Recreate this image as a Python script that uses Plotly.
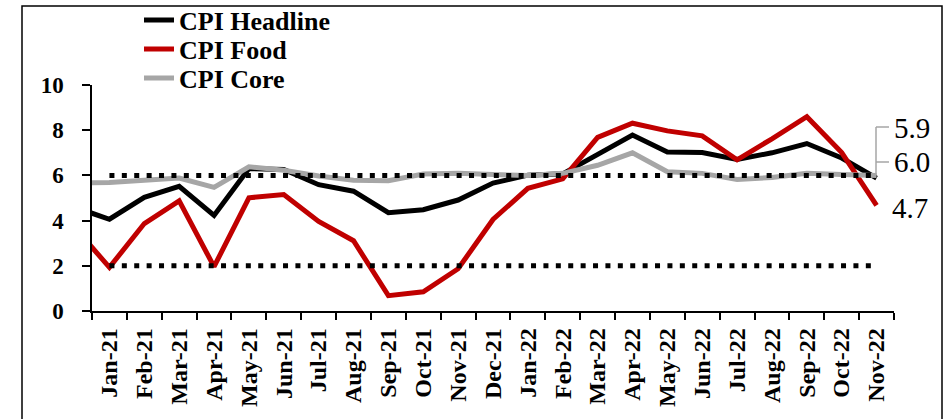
import plotly.graph_objects as go

# ---------------- data ----------------
months = ["Dec-20", "Jan-21", "Feb-21", "Mar-21", "Apr-21", "May-21", "Jun-21", "Jul-21",
          "Aug-21", "Sep-21", "Oct-21", "Nov-21", "Dec-21", "Jan-22", "Feb-22", "Mar-22",
          "Apr-22", "May-22", "Jun-22", "Jul-22", "Aug-22", "Sep-22", "Oct-22", "Nov-22"]
cpi_headline = [4.59, 4.06, 5.03, 5.52, 4.23, 6.30, 6.26, 5.59, 5.30, 4.35, 4.48, 4.91,
                5.66, 6.01, 6.07, 6.95, 7.79, 7.04, 7.01, 6.71, 7.00, 7.41, 6.77, 5.88]
cpi_food = [3.70, 1.93, 3.87, 4.87, 1.96, 5.01, 5.15, 3.96, 3.11, 0.68, 0.85, 1.87,
            4.05, 5.43, 5.85, 7.68, 8.31, 7.97, 7.75, 6.69, 7.62, 8.60, 7.01, 4.67]
cpi_core = [5.65, 5.69, 5.79, 5.88, 5.47, 6.38, 6.23, 5.97, 5.79, 5.76, 6.06, 6.09,
            6.04, 6.00, 6.09, 6.45, 7.00, 6.16, 6.09, 5.82, 5.91, 6.09, 6.04, 6.00]
band_upper = 6
band_lower = 2
y_ticks = [0, 2, 4, 6, 8, 10]

# ---------------- layout helpers ----------------
W, H = 949, 419
X_LEFT, X_RIGHT, Y_TOP, Y_BOTTOM = 92, 894, 85, 311
ML, MR = X_LEFT, W - X_RIGHT
MT, MB = Y_TOP, H - Y_BOTTOM
PW, PH = X_RIGHT - X_LEFT, Y_BOTTOM - Y_TOP


def px(x):
    return (x - X_LEFT) / PW


def py(y):
    return (Y_BOTTOM - y) / PH


BLACK = "#000000"
RED = "#C00000"
GREY = "#A6A6A6"
FONT = "Liberation Serif"

fig = go.Figure()
series = [("CPI Headline", cpi_headline, BLACK, "legend"),
          ("CPI Food", cpi_food, RED, "legend2"),
          ("CPI Core", cpi_core, GREY, "legend3")]
for name, vals, col, lg in series:
    fig.add_trace(go.Scatter(x=months, y=vals, mode="lines", name=name,
                             line=dict(color=col, width=5), legend=lg,
                             hoverinfo="skip"))

band_x = months[1:]
for level in (band_upper, band_lower):
    fig.add_trace(go.Scatter(x=band_x, y=[level] * len(band_x), mode="lines",
                             line=dict(color=BLACK, width=5, dash="5px,7.4px"),
                             showlegend=False, hoverinfo="skip"))

legend_font = dict(family=FONT, size=26, color=BLACK, weight="bold")
legend_common = dict(x=px(139), xanchor="left", yanchor="middle",
                     bgcolor="rgba(0,0,0,0)", font=legend_font, borderwidth=0)

fig.update_layout(
    width=W, height=H,
    margin=dict(l=ML, r=MR, t=MT, b=MB, autoexpand=False),
    paper_bgcolor="white", plot_bgcolor="white",
    legend=dict(y=py(20), **legend_common),
    legend2=dict(y=py(49), **legend_common),
    legend3=dict(y=py(78), **legend_common),
    xaxis=dict(type="category", range=[0.5, len(months) - 0.5],
               tickson="boundaries", ticks="outside", ticklen=7, tickwidth=1.5,
               tickcolor=BLACK, showline=True, linecolor=BLACK, linewidth=1.5,
               showgrid=False, zeroline=False, tickangle=-90,
               ticklabelstandoff=6, automargin=False,
               tickfont=dict(family=FONT, size=24, color=BLACK, weight="bold")),
    yaxis=dict(range=[0, 10], tickvals=y_ticks, ticks="outside", ticklen=8,
               tickwidth=1.5, tickcolor=BLACK, showline=True, linecolor=BLACK,
               linewidth=1.5, showgrid=False, zeroline=False,
               ticklabelstandoff=14, automargin=False,
               tickfont=dict(family=FONT, size=23, color=BLACK, weight="bold")),
)

# outer border
fig.add_shape(type="rect", xref="paper", yref="paper",
              x0=px(22), x1=px(942), y0=py(430), y1=py(6),
              line=dict(color=BLACK, width=1.5), fillcolor="rgba(0,0,0,0)", layer="below")

# leader bracket for end labels
lead = dict(color=GREY, width=1.5)
fig.add_shape(type="line", xref="paper", yref="paper", x0=px(876), x1=px(876),
              y0=py(127), y1=py(175), line=lead)
fig.add_shape(type="line", xref="paper", yref="paper", x0=px(876), x1=px(889),
              y0=py(127), y1=py(127), line=lead)
fig.add_shape(type="line", xref="paper", yref="paper", x0=px(876), x1=px(889),
              y0=py(162), y1=py(162), line=lead)

ann_font = dict(family=FONT, size=29, color=BLACK)
for vals, yshift, xs in [(cpi_headline, 50, 15), (cpi_core, 13, 15), (cpi_food, -3, 13)]:
    fig.add_annotation(x=months[-1], y=vals[-1], text=f"{vals[-1]:.1f}",
                       showarrow=False, xanchor="left", yanchor="middle",
                       xshift=xs, yshift=yshift, font=ann_font)

fig.write_html("out.html",
               config={"displayModeBar": False},
               post_script="document.body.style.margin='0px';"
                           "document.body.style.overflow='hidden';")
